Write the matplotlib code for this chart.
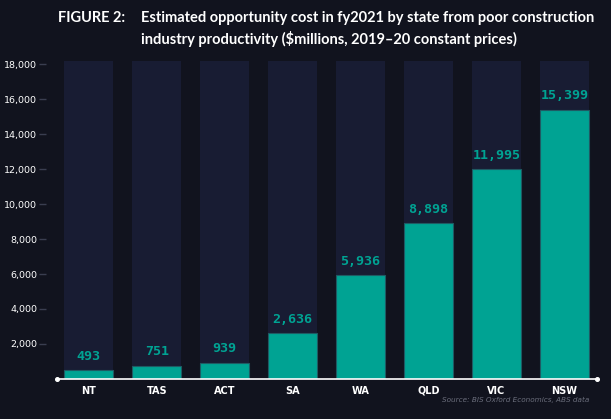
import matplotlib
matplotlib.use("Agg")
import matplotlib.pyplot as plt
from matplotlib.ticker import FuncFormatter

# ----- data -----
states = ["NT", "TAS", "ACT", "SA", "WA", "QLD", "VIC", "NSW"]
values = [493, 751, 939, 2636, 5936, 8898, 11995, 15399]
backdrop = [18150] * len(states)
yticks = [2000, 4000, 6000, 8000, 10000, 12000, 14000, 16000, 18000]

bg = "#11131e"
bar_bg = "#181c33"
teal = "#00a393"

fig = plt.figure(figsize=(6.11, 4.19), dpi=100, facecolor=bg)
ax = fig.add_axes([0.093, 0.0955, 0.884, 0.76], facecolor=bg)

x = list(range(len(states)))
ax.bar(x, backdrop, width=0.72, color=bar_bg, zorder=1)
ax.bar(x, values, width=0.72, color=teal, edgecolor="#1f5a63", linewidth=0.8, zorder=2)

for xi, v in zip(x, values):
    ax.text(xi, v + 420, f"{v:,}", ha="center", va="bottom", color=teal,
            fontsize=9.6, fontweight="bold", family="DejaVu Sans Mono", zorder=3)

ax.set_xlim(-0.47, 7.48)
ax.set_ylim(0, 18200)
ax.set_xticks(x)
ax.set_xticklabels(states)
ax.set_yticks(yticks)
ax.yaxis.set_major_formatter(FuncFormatter(lambda v, p: f"{int(v):,}"))

for s in ["top", "right", "left"]:
    ax.spines[s].set_visible(False)
ax.spines["left"].set_position(("outward", 8))
ax.spines["bottom"].set_color("white")
ax.spines["bottom"].set_linewidth(1.2)
ax.plot([-0.47, 7.48], [0, 0], "o", color="white", markersize=2.6, clip_on=False, zorder=4)

ax.tick_params(axis="y", colors="#3a3e50", length=5, width=1, pad=1, labelcolor="white", labelsize=6.8)
ax.tick_params(axis="x", length=0, pad=5, labelcolor="white", labelsize=7)
for lab in ax.get_xticklabels():
    lab.set_fontweight("bold")

title_kw = dict(color="white", fontsize=10.5, family="Lato", fontweight="bold", va="center")
fig.text(58 / 611, 1 - 18 / 419, "FIGURE 2:", **title_kw)
fig.text(141 / 611, 1 - 18 / 419,
         "Estimated opportunity cost in fy2021 by state from poor construction", **title_kw)
fig.text(141 / 611, 1 - 39 / 419,
         "industry productivity ($millions, 2019\u201320 constant prices)", **title_kw)

fig.text(589 / 611, 1 - 400 / 419, "Source: BIS Oxford Economics, ABS data",
         color="#6b6e7c", fontsize=5.2, style="italic", ha="right", va="center")

fig.savefig("out.png", dpi=100, facecolor=bg)
